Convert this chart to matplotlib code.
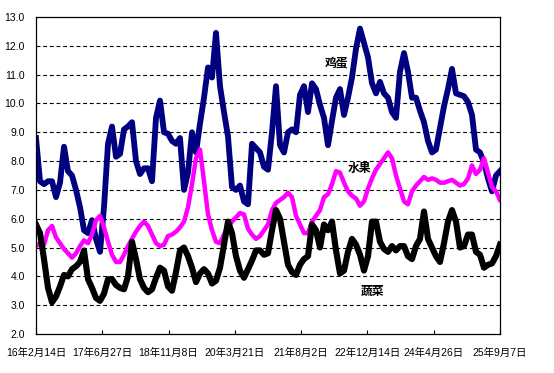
import matplotlib
matplotlib.use("Agg")
import matplotlib.pyplot as plt
import numpy as np
import pandas as pd

plt.rcParams["font.family"] = ["Liberation Sans", "Noto Sans CJK SC", "DejaVu Sans"]

# weekly-ish samples, evenly spread from 2016-02-14 to 2025-09-07
start, end = "2016-02-14", "2025-09-07"

egg = [8.8, 7.3, 7.2, 7.3, 7.3, 6.75, 7.25, 8.5, 7.65, 7.5,
       7.0, 6.4, 5.6, 5.5, 5.95, 5.3, 4.85, 6.4, 8.6, 9.2,
       8.15, 8.25, 9.1, 9.2, 9.35, 8.0, 7.55, 7.75, 7.75, 7.3,
       9.5, 10.1, 9.0, 8.95, 8.7, 8.6, 8.8, 7.0, 7.6, 9.0,
       8.3, 9.3, 10.2, 11.25, 10.9, 12.45, 10.6, 9.7, 8.85, 7.1,
       7.0, 7.15, 6.6, 6.5, 8.6, 8.45, 8.3, 7.8, 7.7, 9.0,
       10.6, 8.55, 8.3, 9.0, 9.1, 9.0, 10.3, 10.6, 9.7, 10.7,
       10.5, 9.95, 9.5, 8.55, 9.4, 10.2, 10.5, 9.6, 10.2, 10.9,
       11.9, 12.6, 12.1, 11.6, 10.7, 10.35, 10.75, 10.35, 10.2, 9.7,
       9.5, 11.1, 11.75, 11.1, 10.2, 10.2, 9.75, 9.35, 8.7, 8.3,
       8.4, 9.15, 9.9, 10.5, 11.2, 10.35, 10.3, 10.25, 10.05, 9.6,
       8.4, 8.3, 7.95, 7.4, 6.95, 7.5, 7.65]

fruit = [5.05, 5.15, 5.1, 5.6, 5.75, 5.35, 5.15, 4.95, 4.8, 4.65,
         4.8, 5.05, 5.25, 5.15, 5.45, 5.95, 6.1, 5.7, 5.2, 4.75,
         4.5, 4.5, 4.75, 5.05, 5.3, 5.55, 5.75, 5.9, 5.75, 5.45,
         5.15, 5.05, 5.1, 5.4, 5.45, 5.55, 5.7, 5.9, 6.4, 7.2,
         8.1, 8.4, 7.3, 6.15, 5.6, 5.2, 5.15, 5.45, 5.7, 5.9,
         6.05, 6.2, 6.15, 5.65, 5.45, 5.3, 5.4, 5.6, 5.8, 6.3,
         6.55, 6.65, 6.75, 6.9, 6.75, 6.1, 5.8, 5.5, 5.5, 5.9,
         6.1, 6.3, 6.75, 6.85, 7.2, 7.65, 7.6, 7.25, 6.95, 6.8,
         6.7, 6.45, 6.6, 7.05, 7.4, 7.7, 7.9, 8.1, 8.3, 8.1,
         7.5, 7.05, 6.6, 6.5, 6.95, 7.15, 7.3, 7.45, 7.35, 7.4,
         7.35, 7.25, 7.25, 7.3, 7.35, 7.25, 7.15, 7.2, 7.4, 7.85,
         7.55, 7.7, 8.1, 7.6, 7.1, 6.95, 6.65]

veg = [5.8, 5.5, 4.6, 3.6, 3.1, 3.3, 3.65, 4.05, 4.0, 4.25,
       4.35, 4.5, 4.9, 3.9, 3.6, 3.25, 3.15, 3.4, 3.9, 3.9,
       3.7, 3.6, 3.55, 4.0, 5.2, 4.6, 3.9, 3.6, 3.45, 3.55,
       3.95, 4.3, 4.2, 3.65, 3.5, 4.15, 4.9, 5.0, 4.7, 4.3,
       3.8, 4.1, 4.25, 4.1, 3.75, 3.85, 4.3, 5.1, 5.9, 5.5,
       4.7, 4.2, 3.95, 4.25, 4.55, 4.9, 4.9, 4.75, 4.8, 5.6,
       6.3, 6.0, 5.2, 4.4, 4.15, 4.05, 4.4, 4.6, 4.7, 5.8,
       5.6, 5.0, 5.8, 5.6, 5.9, 4.9, 4.1, 4.2, 4.85, 5.3,
       5.1, 4.75, 4.2, 4.7, 5.9, 5.9, 5.2, 4.95, 4.85, 5.05,
       4.9, 5.05, 5.05, 4.7, 4.6, 5.05, 5.3, 6.25, 5.3, 5.0,
       4.7, 4.5, 5.15, 5.9, 6.3, 5.9, 5.0, 5.05, 5.45, 5.45,
       4.85, 4.75, 4.3, 4.4, 4.45, 4.7, 5.1]

dates = pd.date_range(start, end, periods=len(egg))
ticks = pd.date_range(start, periods=8, freq="499D")
tick_labels = [f"{d.year % 100}年{d.month}月{d.day}日" for d in ticks]

fig = plt.figure(figsize=(5.54, 3.73), dpi=100)
ax = fig.add_axes([0.065, 0.1046, 0.8375, 0.8498])

ax.plot(dates, egg, color="#000080", lw=4.2)
ax.plot(dates, fruit, color="#FF00FF", lw=3.2)
ax.plot(dates, veg, color="black", lw=4.4)

ax.set_ylim(2, 13)
ax.set_xlim(pd.Timestamp(start), pd.Timestamp(end))
ax.set_yticks(np.arange(2, 13.5, 1))
ax.set_yticklabels([f"{v:.1f}" for v in np.arange(2, 13.5, 1)])
ax.set_xticks(ticks)
ax.set_xticklabels(tick_labels)

for v in range(3, 13):
    ax.axhline(v, color="black", lw=0.8, ls=(0, (3.5, 2.5)), zorder=0)

ax.tick_params(axis="y", length=0, pad=8, labelsize=7.5)
ax.tick_params(axis="x", direction="in", length=3, pad=10, labelsize=7.5)
for s in ax.spines.values():
    s.set_linewidth(0.9)

for label, xf, yf in [("鸡蛋", 0.647, 0.855), ("水果", 0.698, 0.521), ("蔬菜", 0.726, 0.136)]:
    ax.text(xf, yf, label, transform=ax.transAxes, ha="center", va="center",
            fontsize=8.5, fontweight="bold", family=["Noto Sans CJK SC"])

fig.savefig("out.png", dpi=100)
